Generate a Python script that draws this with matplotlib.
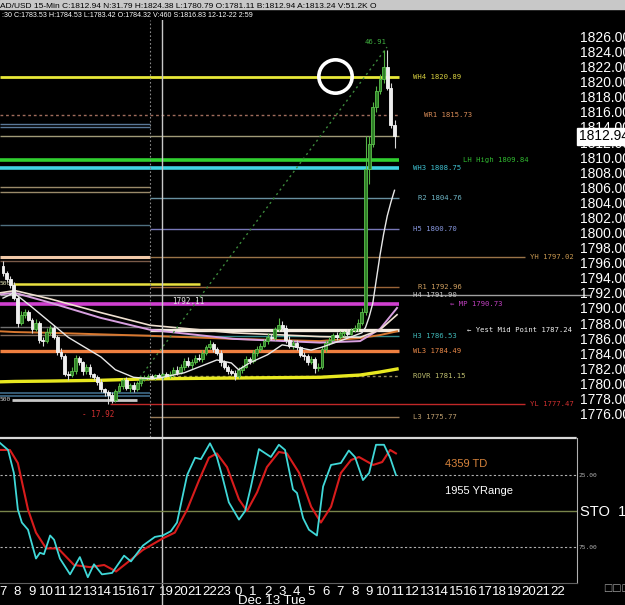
import numpy as np
import matplotlib
matplotlib.use("Agg")
import matplotlib.pyplot as plt
from matplotlib.patches import Rectangle

# ------------------------- data -------------------------

first_open = 1795.8
closes = [1794.8, 1794.0, 1793.2, 1791.5, 1788.2, 1789.2, 1789.6, 1788.6, 1787.4, 1788.2,
          1786.0, 1785.8, 1787.0, 1787.6, 1786.4, 1784.4, 1783.8, 1781.5, 1781.3, 1781.8,
          1783.5, 1783.0, 1781.8, 1782.4, 1781.4, 1781.0, 1780.4, 1779.4, 1779.0, 1778.6,
          1778.0, 1779.2, 1779.8, 1780.6, 1779.6, 1780.0, 1779.4, 1780.2, 1780.8, 1781.0,
          1781.2, 1781.0, 1781.3, 1781.1, 1781.4, 1781.2, 1781.5, 1782.0, 1781.6, 1782.4,
          1783.2, 1782.6, 1783.0, 1783.6, 1783.4, 1784.2, 1785.0, 1785.4, 1784.8, 1784.2,
          1783.0, 1782.4, 1781.8, 1781.6, 1781.2, 1782.0, 1782.4, 1783.4, 1783.2, 1784.2,
          1784.8, 1785.2, 1785.8, 1786.4, 1786.2, 1787.4, 1788.0, 1787.6, 1786.0, 1785.2,
          1785.6, 1785.0, 1784.0, 1783.8, 1783.0, 1783.4, 1782.2, 1782.4, 1784.8, 1785.6,
          1786.0, 1786.6, 1786.4, 1786.9, 1787.0, 1786.8, 1787.3, 1787.6, 1788.2, 1789.6,
          1808.6, 1812.0, 1816.8, 1819.0, 1820.6, 1822.2, 1819.4, 1814.4, 1812.94]
wick_up = [0.6, 0.3, 0.4, 0.5, 0.3, 0.6, 0.4, 0.3, 0.2, 0.5,
           0.3, 0.4, 0.5, 0.3, 0.4, 0.2, 0.5, 0.3, 0.4, 0.6,
           0.4, 0.3, 0.2, 0.4, 0.3, 0.2, 0.3, 0.4, 0.2, 0.3,
           0.5, 0.3, 0.4, 0.3, 0.5, 0.2, 0.4, 0.3, 0.2, 0.3,
           0.2, 0.3, 0.2, 0.3, 0.2, 0.3, 0.4, 0.3, 0.5, 0.4,
           0.3, 0.5, 0.4, 0.3, 0.5, 0.4, 0.3, 0.6, 0.3, 0.2,
           0.4, 0.3, 0.2, 0.3, 0.4, 0.3, 0.2, 0.4, 0.3, 0.4,
           0.3, 0.4, 0.3, 0.5, 0.4, 0.3, 0.8, 0.4, 0.3, 0.5,
           0.4, 0.3, 0.2, 0.4, 0.3, 0.4, 0.3, 0.5, 0.4, 0.3,
           0.4, 0.3, 0.4, 0.3, 0.2, 0.4, 0.3, 0.4, 0.5, 0.6,
           4.4, 1.0, 0.7, 0.6, 0.6, 2.2, 2.2, 0.6, 0.7]
wick_dn = [0.3, 0.4, 0.3, 0.2, 0.5, 0.3, 0.4, 0.2, 0.5, 0.3,
           0.4, 0.6, 0.3, 0.4, 0.3, 0.5, 0.4, 0.3, 0.6, 0.2,
           0.3, 0.4, 0.5, 0.3, 0.4, 0.3, 0.4, 0.3, 0.5, 1.1,
           0.4, 0.3, 0.2, 0.4, 0.3, 0.5, 0.3, 0.2, 0.4, 0.3,
           0.3, 0.2, 0.3, 0.2, 0.3, 0.2, 0.3, 0.4, 0.3, 0.2,
           0.4, 0.3, 0.5, 0.3, 0.2, 0.4, 0.3, 0.2, 0.4, 0.3,
           0.5, 0.3, 0.4, 0.3, 0.5, 0.3, 0.4, 0.2, 0.4, 0.3,
           0.4, 0.3, 0.2, 0.4, 0.3, 0.2, 0.3, 0.5, 0.4, 0.3,
           0.5, 0.4, 0.3, 0.5, 0.4, 0.3, 0.6, 0.4, 0.3, 0.4,
           0.3, 0.2, 0.4, 0.3, 0.4, 0.3, 0.2, 0.3, 0.4, 0.3,
           0.4, 2.0, 0.5, 0.6, 0.4, 0.5, 0.3, 0.4, 1.5]

# moving averages (sampled along the bars)
ma_fast_bar = [0, 3, 8, 18, 27, 31, 36, 41, 44, 50, 59, 63, 65, 68, 73, 77, 81, 85, 88, 94,
               99, 100, 101, 102, 103, 104, 105, 106, 107, 108]
ma_fast = [1791.5, 1792.2, 1790.3, 1786.3, 1783.7, 1782.0, 1781.0, 1780.8, 1781.0, 1781.6,
           1783.3, 1782.9, 1782.0, 1782.9, 1784.0, 1785.3, 1785.0, 1784.6, 1785.0, 1786.0,
           1786.9, 1787.6, 1789.0, 1790.8, 1794.0, 1797.2, 1800.0, 1802.4, 1804.2, 1805.8]
ma_slow_bar = [-0.8, 3.3, 13, 26.8, 40.6, 63.4, 87.4, 98.5, 104, 108.7]
ma_lavender = [1792.0, 1792.2, 1790.9, 1788.9, 1787.3, 1786.1, 1785.6, 1785.8, 1787.4, 1790.2]
ma_cream = [1792.2, 1792.5, 1791.4, 1789.6, 1787.9, 1786.9, 1786.4, 1786.3, 1787.3, 1789.3]
ma_orange = [1787.1, 1787.0, 1786.9, 1786.7, 1786.5, 1786.1, 1785.8, 1786.2, 1786.6, 1787.1]
ma_yellow = [1780.4, 1780.45, 1780.5, 1780.6, 1780.8, 1780.9, 1781.0, 1781.3, 1781.7, 1782.1]

# pivot levels
level_names = ["WH4", "WR1", "LH High", "WH3", "R2", "H5", "YH", "R1", "H4", "MP",
               "Yest Mid Point", "H3", "WL3", "ROVR", "YL", "L3"]
level_values = [1820.89, 1815.73, 1809.84, 1808.75, 1804.76, 1800.70, 1797.02, 1792.96,
                1791.90, 1790.73, 1787.24, 1786.53, 1784.49, 1781.15, 1777.47, 1775.77]
last_price = 1812.94
prev_levels = [1814.6, 1814.2, 1806.2, 1805.6, 1801.2, 1797.0, 1796.4, 1787.7, 1786.6,
               1778.9, 1778.5]

# stochastic (%K cyan, %D red)
stoch_k_bar = [-0.8, 1.4, 3.0, 4.1, 5.2, 6.9, 9.1, 10.2, 11.3, 13.0, 14.1, 15.7, 18.5, 21.2,
               23.4, 25.1, 27.3, 30.1, 33.4, 35.3, 38.6, 41.9, 44.1, 46.3, 48.0, 50.8, 53.0,
               54.6, 57.1, 59.0, 60.7, 62.3, 65.1, 66.8, 68.4, 70.6, 73.9, 76.1, 77.8, 80.0,
               81.1, 82.8, 84.4, 86.6, 88.3, 90.5, 93.2, 95.4, 97.1, 99.3, 101.0, 102.9,
               105.1, 106.8, 108.4]
stoch_k = [2.8, 7.6, 23.6, 49, 58, 63, 83, 79, 80, 67, 70, 83, 94, 82,
           96, 87, 94, 93, 81, 85, 74, 68, 67, 64, 58, 25, 13,
           14, 3, 12.5, 28, 44, 56, 50, 33, 7, 12.5, 4, 7.6, 35,
           37.5, 55, 63, 67, 33, 18, 16.7, 8, 12.5, 28.5, 23.6, 4,
           4, 13, 25]
stoch_d_bar = [-0.8, 1.9, 4.1, 6.9, 9.1, 11.9, 15.2, 19.6, 24.0, 27.9, 31.2, 34.2, 38.6,
               44.1, 47.4, 50.8, 54.1, 56.8, 59.0, 61.8, 65.1, 67.3, 70.1, 72.8, 76.1, 78.3,
               81.7, 85.0, 87.7, 90.5, 93.2, 96.0, 98.2, 102.1, 104.6, 106.8, 108.4]
stoch_d = [7.6, 7.6, 16.7, 49, 65, 76, 76, 87.5, 89, 87.5, 92, 86, 77,
           69, 65, 49, 28.5, 13, 10, 19.5, 42, 50, 37, 19.5, 9, 10,
           23.6, 47, 58, 47, 23.6, 14.6, 12.5, 18, 16, 7.6, 10]

hours = [7, 8, 9, 10, 11, 12, 13, 14, 15, 16, 17, 19, 20, 21, 22, 23,
         0, 1, 2, 3, 4, 5, 6, 7, 8, 9, 10, 11, 12, 13, 14, 15, 16, 17, 18, 19, 20, 21, 22]

title1 = "AD/USD 15-Min C:1812.94 N:31.79 H:1824.38 L:1780.79 O:1781.11 B:1812.94 A:1813.24 V:51.2K O"
title2 = ":30 C:1783.53 H:1784.53 L:1783.42 O:1784.32 V:460 S:1816.83 12-12-22 2:59"

# ------------------------- layout helpers -------------------------

W, H = 625, 605
PX_BAR = 3.625  # pixels per 15 min bar


def box(x0, y0, x1, y1):
    return [x0 / W, 1 - y1 / H, (x1 - x0) / W, (y1 - y0) / H]


def bar_at(px):
    return (px - 3) / PX_BAR


fig = plt.figure(figsize=(W / 100, H / 100), dpi=100, facecolor="black")
ax = fig.add_axes(box(0, 20, 578, 437))
ax2 = fig.add_axes(box(0, 438, 577, 583))
for a in (ax, ax2):
    a.set_facecolor("black")
    a.tick_params(length=0, labelleft=False, labelbottom=False)
    for s in a.spines.values():
        s.set_visible(False)
ax.set_xlim(bar_at(0), bar_at(578))
ax.set_ylim(1773.08, 1828.39)
ax2.set_xlim(bar_at(0), bar_at(577))
ax2.set_ylim(100, -0.7)

MONO = ["DejaVu Sans Mono", "DejaVu Sans"]
SANS = ["Liberation Sans", "DejaVu Sans"]

# ------------------------- horizontal levels -------------------------

left_end = bar_at(150)
right_end = bar_at(399)
far_end = bar_at(525)

prev_colors = ["#5a7898", "#5a7898", "#9a8a6a", "#9a8a6a", "#4f7080", "#f0c8a8", "#7a5a48",
               "#707070", "#806858", "#3f6a88", "#3f6a88"]
prev_lw = [1, 1, 1, 1, 1, 2.2, 1, 1, 1, 1.2, 1.2]
for v, col, lw in zip(prev_levels, prev_colors, prev_lw):
    ax.hlines(v, bar_at(0), left_end, color=col, lw=lw, zorder=2)
ax.hlines(1793.4, bar_at(13), bar_at(200), color="#e8e040", lw=1.8, zorder=2)
ax.hlines(1778.0, bar_at(12), bar_at(137), color="#c8c8c8", lw=2, zorder=2)
ax.text(bar_at(0), 1793.4, "500", color="#e0e0b0", fontsize=4.5, family=MONO, va="center")
ax.text(bar_at(0), 1778.0, "500", color="#d0d0d0", fontsize=4.5, family=MONO, va="center")

level_style = {
    "WH4": dict(c="#e8e838", lw=2.0, ls="-", x0=bar_at(0), x1=right_end, lx=bar_at(413), tc="#d8d040"),
    "WR1": dict(c="#a06c5c", lw=1.0, ls=(0, (2, 2)), x0=bar_at(0), x1=right_end, lx=bar_at(424), tc="#d88c58"),
    "LH High": dict(c="#30d030", lw=2.6, ls="-", x0=bar_at(0), x1=right_end, lx=bar_at(463), tc="#30b830"),
    "WH3": dict(c="#40d4e4", lw=2.6, ls="-", x0=bar_at(0), x1=right_end, lx=bar_at(413), tc="#40c4d4"),
    "R2": dict(c="#6890a0", lw=1.0, ls="-", x0=left_end, x1=right_end, lx=bar_at(418), tc="#70b8c8"),
    "H5": dict(c="#7878b8", lw=1.0, ls="-", x0=left_end, x1=right_end, lx=bar_at(413), tc="#8898e0"),
    "YH": dict(c="#9a7448", lw=1.0, ls="-", x0=left_end, x1=far_end, lx=bar_at(530), tc="#c89850"),
    "R1": dict(c="#9a6438", lw=1.0, ls="-", x0=left_end, x1=right_end, lx=bar_at(418), tc="#d0a060"),
    "H4": dict(c="#a0a0a0", lw=1.0, ls="-", x0=bar_at(0), x1=bar_at(590), lx=bar_at(413), tc="#c8c8c8"),
    "MP": dict(c="#d040d0", lw=2.6, ls="-", x0=bar_at(0), x1=right_end, lx=bar_at(450), tc="#c040c0"),
    "Yest Mid Point": dict(c="#f4ece0", lw=2.4, ls="-", x0=left_end, x1=right_end, lx=bar_at(467), tc="#f0f0f0"),
    "H3": dict(c="#308888", lw=1.0, ls="-", x0=left_end, x1=right_end, lx=bar_at(413), tc="#40b8b8"),
    "WL3": dict(c="#f08040", lw=2.4, ls="-", x0=bar_at(0), x1=right_end, lx=bar_at(413), tc="#e88848"),
    "ROVR": dict(c="#908858", lw=1.0, ls=(0, (2, 2)), x0=left_end, x1=right_end, lx=bar_at(413), tc="#c0c070"),
    "YL": dict(c="#c02828", lw=1.0, ls="-", x0=bar_at(110), x1=far_end, lx=bar_at(530), tc="#d03030"),
    "L3": dict(c="#9a7c58", lw=1.0, ls="-", x0=left_end, x1=right_end, lx=bar_at(413), tc="#c0a070"),
}
for name, v in zip(level_names, level_values):
    st = level_style[name]
    ax.hlines(v, st["x0"], st["x1"], color=st["c"], lw=st["lw"], linestyles=[st["ls"]],
              zorder=2, clip_on=False)
    label = f"{name} {v:.2f}"
    if name == "MP":
        label = "\u21d0 " + label
    elif name == "Yest Mid Point":
        label = "\u2190 " + label
    ax.text(st["lx"], v, label, color=st["tc"], fontsize=5.2, family=MONO, va="center", zorder=5)

ax.hlines(last_price, bar_at(0), right_end, color="#a09a78", lw=1.0, zorder=2)

# ------------------------- moving averages -------------------------

ax.plot(ma_slow_bar, ma_yellow, color="#e8e820", lw=2.4, zorder=3)
ax.plot(ma_slow_bar, ma_orange, color="#d87830", lw=1.4, zorder=3)
ax.plot(ma_slow_bar, ma_lavender, color="#d8a0e0", lw=1.4, zorder=3)
ax.plot(ma_slow_bar, ma_cream, color="#efe0d0", lw=1.2, zorder=3)
ax.plot(ma_fast_bar, ma_fast, color="#e8e8e8", lw=1.0, zorder=6)

# ------------------------- candles -------------------------

c = np.array(closes)
o = np.r_[first_open, c[:-1]]
hi = np.maximum(o, c) + np.array(wick_up)
lo = np.minimum(o, c) - np.array(wick_dn)
idx = np.arange(len(c))
up = c >= o
ax.vlines(idx[up], lo[up], hi[up], color="#55b545", lw=0.8, zorder=4)
ax.vlines(idx[~up], lo[~up], hi[~up], color="#d8d8d8", lw=0.8, zorder=4)
ax.bar(idx[up], (c - o)[up], bottom=o[up], width=0.8, color="#2f7f27",
       edgecolor="#5cc04c", lw=0.6, zorder=5)
ax.bar(idx[~up], (c - o)[~up], bottom=o[~up], width=0.8, color="#eeeeee",
       edgecolor="#f4f4f4", lw=0.6, zorder=5)

# trend line, circle, small notes
ax.plot([bar_at(140), bar_at(387)], [1781.0, 1824.8], color="#3c8a3c", lw=1.0,
        ls=(0, (1.5, 2.5)), zorder=3)
ax.plot([bar_at(335)], [1821.0], marker="o", ms=24, mfc="none", mec="white", mew=2.6, zorder=7)
ax.text(bar_at(365), 1825.5, "46.91", color="#40b040", fontsize=5.2, family=MONO, va="center")
ax.text(bar_at(172), 1791.0, "1792.11", color="#e0e0e0", fontsize=5.5, family=MONO, va="center")
ax.text(bar_at(82), 1776.1, "- 17.92", color="#d03030", fontsize=5.5, family=MONO, va="center")

# session separator and cursor
ax.axvline(bar_at(150), color="#8a8a8a", lw=0.8, ls=(0, (1.5, 2)), zorder=3)
ax.axvline(bar_at(162), color="#c8c8c8", lw=1.0, zorder=3)
ax2.axvline(bar_at(162), ymin=-0.16, ymax=1.0, color="#c8c8c8", lw=1.0, clip_on=False)

# ------------------------- price scale -------------------------

for p in range(1776, 1828, 2):
    ax.text(580 / 578, p, f"{p}.00", transform=ax.get_yaxis_transform(), color="white",
            fontsize=10, family=SANS, va="center", ha="left", clip_on=False)
ax.text(579 / 578, last_price, f"{last_price:.2f}", transform=ax.get_yaxis_transform(),
        color="black", fontsize=10, family=SANS, va="center", ha="left", clip_on=False,
        zorder=10, bbox=dict(boxstyle="square,pad=0.12", fc="white", ec="white"))

# ------------------------- stochastic panel -------------------------

ax2.axhline(25, color="#b0b0b0", lw=0.8, ls=(0, (2, 2)))
ax2.axhline(75, color="#b0b0b0", lw=0.8, ls=(0, (2, 2)))
ax2.axhline(50, color="#78844a", lw=1.0)
ax2.plot(stoch_d_bar, stoch_d, color="#d81c1c", lw=1.5)
ax2.plot(stoch_k_bar, stoch_k, color="#40d8d8", lw=1.3)
ax2.spines["right"].set_visible(True)
ax2.spines["right"].set_color("#b0b0b0")
ax2.spines["bottom"].set_visible(True)
ax2.spines["bottom"].set_color("#606060")
ax2.spines["top"].set_visible(True)
ax2.spines["top"].set_color("#d8d8d8")
ax2.spines["top"].set_linestyle((0, (1, 1)))
ax2.spines["top"].set_linewidth(1.6)

ax2.text(bar_at(445), 17.5, "4359 TD", color="#d8843c", fontsize=8, family=SANS, va="center")
ax2.text(bar_at(445), 36, "1955 YRange", color="white", fontsize=8, family=SANS, va="center")
ax2.text(1.005, 50.5, "STO  15", transform=ax2.get_yaxis_transform(), color="white",
         fontsize=10.5, family=SANS, va="center", clip_on=False)
for v in (25, 75):
    ax2.text(1.003, v, f"{v}.00", transform=ax2.get_yaxis_transform(), color="#b0b0b0",
             fontsize=4.5, family=MONO, va="center", clip_on=False)

# hour labels: four bars an hour, evening session starts one bar after the break
tick_pos = [4 * i if i < 11 else 4 * i + 1 for i in range(len(hours))]
ax2.set_xticks(tick_pos)
ax2.set_xticklabels([str(h) for h in hours])
ax2.tick_params(axis="x", labelbottom=True, colors="white", labelsize=9.5, pad=2.5)
for t in ax2.get_xticklabels():
    t.set_family(SANS)

fig.text(272 / W, 1 - 601 / H, "Dec 13 Tue", color="white", fontsize=9.5, family=SANS,
         ha="center", va="center")
fig.text(603 / W, 1 - 588 / H, "\u25a1\u25a1\u25a1", color="#a0a0a0", fontsize=7,
         family=["DejaVu Sans"], va="center")

# ------------------------- header lines -------------------------

fig.patches.append(Rectangle((0, 1 - 9 / H), 1, 9 / H, transform=fig.transFigure,
                             color="#c8c8c8", zorder=0))
fig.text(0, 1 - 8.5 / H, title1, color="black", fontsize=6.0, family=SANS,
         va="baseline", ha="left")
fig.text(2 / W, 1 - 17 / H, title2, color="white", fontsize=5.1, family=SANS,
         va="baseline", ha="left")

fig.savefig("out.png", dpi=100, facecolor="black")
